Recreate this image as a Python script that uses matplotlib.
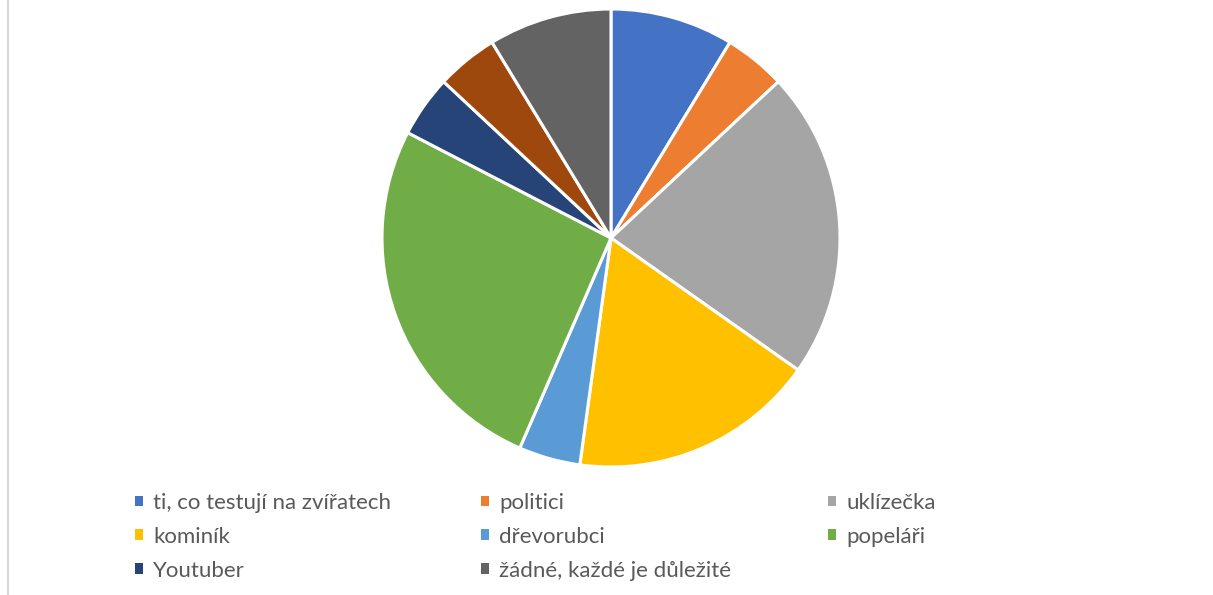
import matplotlib
matplotlib.use("Agg")
import matplotlib.pyplot as plt
from matplotlib.lines import Line2D
from matplotlib.patches import Patch

categories = ["ti, co testují na zvířatech", "politici", "uklízečka", "kominík",
              "dřevorubci", "popeláři", "Youtuber", "žádné, každé je důležité"]
values = [2, 1, 5, 4, 1, 6, 1, 1, 2]
colors = ["#4472C4", "#ED7D31", "#A5A5A5", "#FFC000", "#5B9BD5",
          "#70AD47", "#264478", "#9E480E", "#636363"]

plt.rcParams["font.family"] = ["Lato", "DejaVu Sans"]

W, H = 1213, 595
fig = plt.figure(figsize=(W / 100, H / 100), dpi=100)
fig.patch.set_facecolor("white")

cx, cy, r = 611, 238, 229
ax = fig.add_axes([(cx - r) / W, (H - cy - r) / H, 2 * r / W, 2 * r / H])
ax.pie(values, colors=colors, startangle=90, counterclock=False, radius=1,
       wedgeprops=dict(edgecolor="white", linewidth=2.2))
ax.set_xlim(-1.0, 1.0)
ax.set_ylim(-1.0, 1.0)
ax.set_aspect("equal")
ax.axis("off")

# legend laid out in three fixed-width columns, filled row by row
legend_idx = [0, 1, 2, 3, 4, 5, 6, 8]
legend_colors = [colors[i] for i in legend_idx]
col_x = [135, 481, 828]
for c in range(3):
    items = list(range(c, len(categories), 3))
    handles = [Patch(facecolor=legend_colors[i], edgecolor="none") for i in items]
    fig.legend(handles, [categories[i] for i in items],
               loc="upper left", bbox_to_anchor=(col_x[c] / W, 1 - 493 / H),
               frameon=False, fontsize=16, handlelength=0.36, handleheight=0.36,
               handletextpad=0.45, labelspacing=0.62, borderpad=0,
               borderaxespad=0, labelcolor="#595959")

fig.add_artist(Line2D([7.5 / W, 7.5 / W], [0, 1], color="#D9D9D9", linewidth=1.6,
                      transform=fig.transFigure))

fig.savefig("out.png", dpi=100, facecolor="white")
